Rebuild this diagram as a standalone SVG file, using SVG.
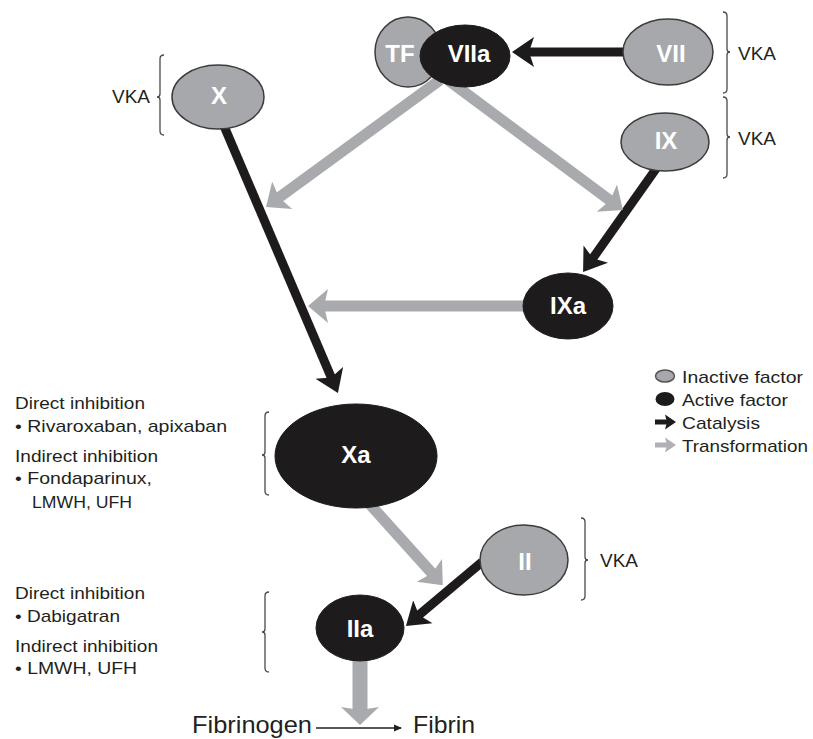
<svg xmlns="http://www.w3.org/2000/svg" width="813" height="739" viewBox="0 0 813 739">
<style>
text{font-family:"Liberation Sans",Arial,sans-serif;fill:#231f20}
.lbl{font-size:24px;font-weight:bold;fill:#fff;text-anchor:middle}
.t{font-size:17px}
.vka{font-size:18px}
.inact{fill:#a7a8ab;stroke:#3b3b3b;stroke-width:1.5}
.act{fill:#1e1b1c;stroke:#1e1b1c;stroke-width:1}
.cat{stroke:#1e1b1c;stroke-width:9;fill:none;marker-end:url(#mCat)}
.tr{stroke:#a8aaad;stroke-width:11;fill:none;marker-end:url(#mTr)}
.br{stroke:#4a4a4a;stroke-width:1.3;fill:none}
</style>
<defs>
<marker id="mCat" markerUnits="userSpaceOnUse" viewBox="0 -16 22 32" markerWidth="22" markerHeight="32" refX="14" refY="0" orient="auto"><path d="M0,-15 L22,0 L0,15 L5,0 z" fill="#1e1b1c"/></marker>
<marker id="mTr" markerUnits="userSpaceOnUse" viewBox="0 -18 20 36" markerWidth="20" markerHeight="36" refX="13" refY="0" orient="auto"><path d="M0,-17 L20,0 L0,17 L4,0 z" fill="#a8aaad"/></marker>
<marker id="mTrL" markerUnits="userSpaceOnUse" viewBox="0 -20 18 40" markerWidth="18" markerHeight="40" refX="10" refY="0" orient="auto"><path d="M0,-19 L18,0 L0,19 L3,0 z" fill="#a8aaad"/></marker>
<marker id="mThin" markerUnits="userSpaceOnUse" viewBox="0 -4 8 8" markerWidth="8" markerHeight="8" refX="7" refY="0" orient="auto"><path d="M0,-3.5 L8,0 L0,3.5 z" fill="#231f20"/></marker>
<marker id="mCatS" markerUnits="userSpaceOnUse" viewBox="0 -8 11 16" markerWidth="11" markerHeight="16" refX="7" refY="0" orient="auto"><path d="M0,-7.5 L11,0 L0,7.5 L2,0 z" fill="#1e1b1c"/></marker>
<marker id="mTrS" markerUnits="userSpaceOnUse" viewBox="0 -8 11 16" markerWidth="11" markerHeight="16" refX="7" refY="0" orient="auto"><path d="M0,-7.5 L11,0 L0,7.5 L2,0 z" fill="#b0b1b4"/></marker>
</defs>

<g id="connectors">
<line class="cat" x1="623" y1="52" x2="520" y2="52"/>
<line class="cat" x1="224" y1="126" x2="334.8" y2="385.7"/>
<line class="cat" x1="658" y1="166" x2="587.7" y2="265.5"/>
<line class="cat" x1="482" y1="562" x2="412.1" y2="620.8"/>
<line class="tr" x1="440" y1="80" x2="271.7" y2="202.9"/>
<line class="tr" x1="448" y1="80" x2="617.3" y2="205.9"/>
<line class="tr" x1="540" y1="306" x2="315" y2="306"/>
<line class="tr" x1="366" y1="500" x2="438.1" y2="580"/>
<line stroke="#a8aaad" stroke-width="15" marker-end="url(#mTrL)" x1="360" y1="650" x2="360" y2="717"/>
<line stroke="#231f20" stroke-width="1.3" marker-end="url(#mThin)" x1="316" y1="728" x2="401" y2="728"/>
</g>

<g id="node-TF"><ellipse class="inact" cx="408" cy="52" rx="33" ry="35"/><text class="lbl" x="400" y="62">TF</text></g>
<g id="node-VIIa"><ellipse class="act" cx="465" cy="56" rx="45" ry="31"/><text class="lbl" x="469" y="62">VIIa</text></g>
<g id="node-VII"><ellipse class="inact" cx="668" cy="52" rx="45" ry="33"/><text class="lbl" x="671" y="62">VII</text></g>
<g id="node-IX"><ellipse class="inact" cx="665" cy="142" rx="44" ry="29"/><text class="lbl" x="666" y="149">IX</text></g>
<g id="node-X"><ellipse class="inact" cx="218" cy="97" rx="46" ry="32"/><text class="lbl" x="219" y="104">X</text></g>
<g id="node-IXa"><ellipse class="act" cx="568" cy="306" rx="45" ry="33"/><text class="lbl" x="568" y="314">IXa</text></g>
<g id="node-Xa"><ellipse class="act" cx="356" cy="456" rx="81" ry="52"/><text class="lbl" x="356" y="463">Xa</text></g>
<g id="node-II"><ellipse class="inact" cx="524" cy="560" rx="44" ry="35"/><text class="lbl" x="525" y="570">II</text></g>
<g id="node-IIa"><ellipse class="act" cx="360" cy="628" rx="44" ry="33"/><text class="lbl" x="360" y="637">IIa</text></g>

<g id="brackets">
<path class="br" d="M723,12 Q727,12 727,16 L727,49 Q727,52 730,52 Q727,52 727,55 L727,89 Q727,93 723,93"/>
<path class="br" d="M723,97 Q727,97 727,101 L727,134 Q727,137 730,137 Q727,137 727,140 L727,174 Q727,178 723,178"/>
<path class="br" d="M164,55 Q160,55 160,59 L160,94 Q160,97 157,97 Q160,97 160,100 L160,131 Q160,135 164,135"/>
<path class="br" d="M269,412 Q265,412 265,416 L265,452 Q265,455 262,455 Q265,455 265,458 L265,491 Q265,495 269,495"/>
<path class="br" d="M581,518 Q585,518 585,522 L585,557 Q585,560 588,560 Q585,560 585,563 L585,596 Q585,600 581,600"/>
<path class="br" d="M269,592 Q265,592 265,596 L265,629 Q265,632 262,632 Q265,632 265,635 L265,668 Q265,672 269,672"/>
</g>

<g id="labels">
<text class="vka" x="738" y="60" textLength="38" lengthAdjust="spacingAndGlyphs">VKA</text>
<text class="vka" x="738" y="145" textLength="38" lengthAdjust="spacingAndGlyphs">VKA</text>
<text class="vka" x="112" y="103" textLength="38" lengthAdjust="spacingAndGlyphs">VKA</text>
<text class="vka" x="600" y="567" textLength="38" lengthAdjust="spacingAndGlyphs">VKA</text>

<text class="t" x="15" y="409" textLength="130" lengthAdjust="spacingAndGlyphs">Direct inhibition</text>
<text class="t" x="15" y="432" textLength="212" lengthAdjust="spacingAndGlyphs">• Rivaroxaban, apixaban</text>
<text class="t" x="15" y="462" textLength="143" lengthAdjust="spacingAndGlyphs">Indirect inhibition</text>
<text class="t" x="15" y="484" textLength="137" lengthAdjust="spacingAndGlyphs">• Fondaparinux,</text>
<text class="t" x="32" y="508" textLength="100" lengthAdjust="spacingAndGlyphs">LMWH, UFH</text>

<text class="t" x="15" y="599" textLength="130" lengthAdjust="spacingAndGlyphs">Direct inhibition</text>
<text class="t" x="15" y="622" textLength="105" lengthAdjust="spacingAndGlyphs">• Dabigatran</text>
<text class="t" x="15" y="652" textLength="143" lengthAdjust="spacingAndGlyphs">Indirect inhibition</text>
<text class="t" x="15" y="674" textLength="122" lengthAdjust="spacingAndGlyphs">• LMWH, UFH</text>

<text x="192" y="733" style="font-size:24px" textLength="120" lengthAdjust="spacingAndGlyphs">Fibrinogen</text>
<text x="413" y="733" style="font-size:24px" textLength="62" lengthAdjust="spacingAndGlyphs">Fibrin</text>
</g>

<g id="legend">
<ellipse cx="665" cy="376" rx="9.5" ry="6" fill="#a7a8ab" stroke="#555" stroke-width="1.5"/>
<ellipse cx="665" cy="399" rx="9.5" ry="7" fill="#1e1b1c"/>
<line x1="655" y1="422" x2="672" y2="422" stroke="#1e1b1c" stroke-width="5" marker-end="url(#mCatS)"/>
<line x1="655" y1="445" x2="672" y2="445" stroke="#b0b1b4" stroke-width="5" marker-end="url(#mTrS)"/>
<text class="t" x="682" y="383" textLength="121" lengthAdjust="spacingAndGlyphs">Inactive factor</text>
<text class="t" x="682" y="406" textLength="106" lengthAdjust="spacingAndGlyphs">Active factor</text>
<text class="t" x="682" y="429" textLength="78" lengthAdjust="spacingAndGlyphs">Catalysis</text>
<text class="t" x="682" y="452" textLength="126" lengthAdjust="spacingAndGlyphs">Transformation</text>
</g>
</svg>
